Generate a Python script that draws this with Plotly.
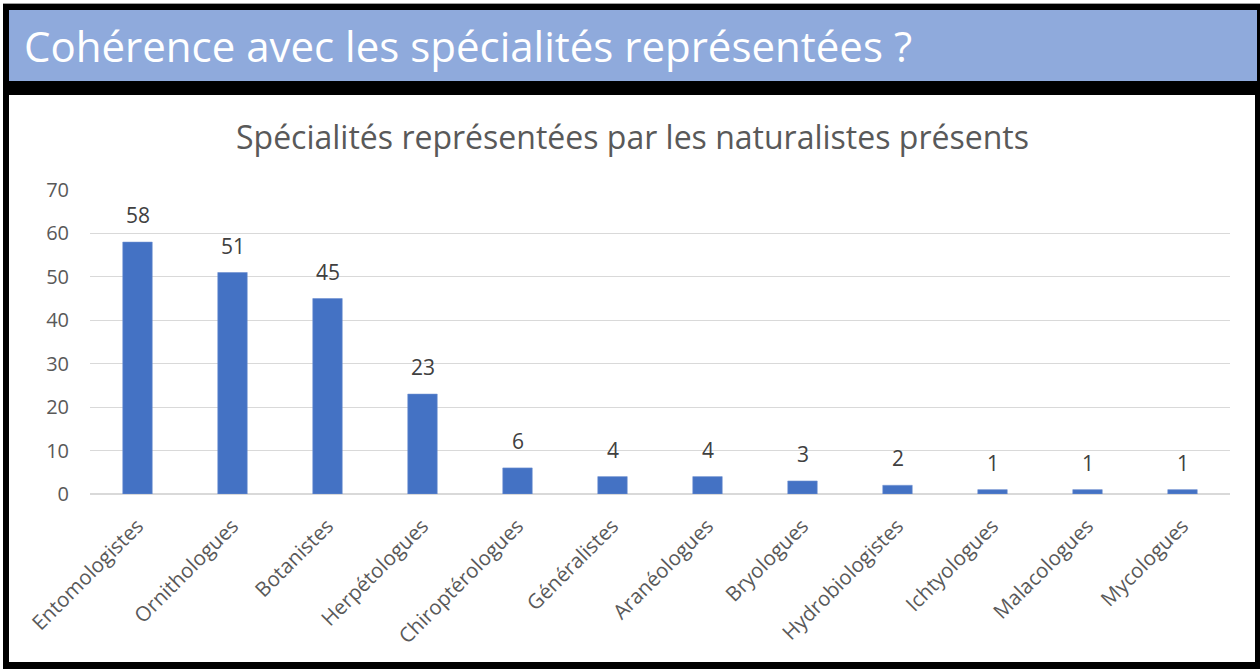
import plotly.graph_objects as go

categories = ["Entomologistes", "Ornithologues", "Botanistes", "Herpétologues",
              "Chiroptérologues", "Généralistes", "Aranéologues", "Bryologues",
              "Hydrobiologistes", "Ichtyologues", "Malacologues", "Mycologues"]
values = [58, 51, 45, 23, 6, 4, 4, 3, 2, 1, 1, 1]
y_ticks = [0, 10, 20, 30, 40, 50, 60, 70]

banner_title = "Cohérence avec les spécialités représentées ?"
chart_title = "Spécialités représentées par les naturalistes présents"

W, H = 1260, 669
L, R, T, B = 90, 30, 190, 175
PW, PH = W - L - R, H - T - B

def px(x):
    return (x - L) / PW

def py(y):
    return (H - B - y) / PH

FONT = "Open Sans, Noto Sans, sans-serif"

fig = go.Figure(go.Bar(
    x=categories, y=values,
    marker=dict(color="#4472C4", line=dict(color="#6D8FD0", width=0.6)),
    hoverinfo="x+y",
))

shapes = [
    dict(type="rect", xref="paper", yref="paper", x0=px(3), x1=px(1261), y0=py(4), y1=py(670),
         fillcolor="black", line=dict(width=0), layer="below"),
    dict(type="rect", xref="paper", yref="paper", x0=px(9), x1=px(1257), y0=py(10), y1=py(81),
         fillcolor="#8FAADC", line=dict(width=0), layer="below"),
    dict(type="rect", xref="paper", yref="paper", x0=px(9), x1=px(1255), y0=py(95), y1=py(662),
         fillcolor="white", line=dict(width=0), layer="below"),
    dict(type="line", xref="paper", yref="paper", x0=px(3), x1=px(1261), y0=py(3.5), y1=py(3.5),
         line=dict(color="#A0A0A0", width=1), layer="below"),
]

annotations = [
    dict(text=banner_title, xref="paper", yref="paper", x=px(22), y=py(45),
         xanchor="left", yanchor="middle", showarrow=False,
         font=dict(family=FONT, size=42, color="white")),
    dict(text=chart_title, xref="paper", yref="paper", x=px(632), y=py(136),
         xanchor="center", yanchor="middle", showarrow=False,
         font=dict(family=FONT, size=32, color="#595959")),
]
for c, v in zip(categories, values):
    annotations.append(dict(
        text=str(v), x=c, y=v, xref="x", yref="y", yanchor="bottom", xanchor="center",
        yshift=11, showarrow=False,
        font=dict(family=FONT, size=21, color="#404040"),
    ))

fig.update_layout(
    width=W, height=H,
    margin=dict(l=L, r=R, t=T, b=B, pad=0),
    paper_bgcolor="white", plot_bgcolor="rgba(0,0,0,0)",
    shapes=shapes, annotations=annotations,
    showlegend=False, bargap=0.69,
    font=dict(family=FONT),
)
fig.update_xaxes(
    tickangle=-45, showgrid=False, showline=False, ticks="", ticklabelstandoff=15,
    tickfont=dict(family=FONT, size=20.5, color="#595959"),
)
fig.update_yaxes(
    range=[0, 70], tickvals=y_ticks, showgrid=True, gridcolor="#D9D9D9", gridwidth=1,
    zeroline=True, zerolinecolor="#D9D9D9", zerolinewidth=1.5, showline=False,
    ticks="", ticklabelstandoff=20,
    tickfont=dict(family=FONT, size=20, color="#595959"),
)

fig.write_html(
    "out.html",
    config={"displayModeBar": False},
    post_script="document.body.style.margin='0';document.body.style.overflow='hidden';"
                "document.documentElement.style.overflow='hidden';",
)
